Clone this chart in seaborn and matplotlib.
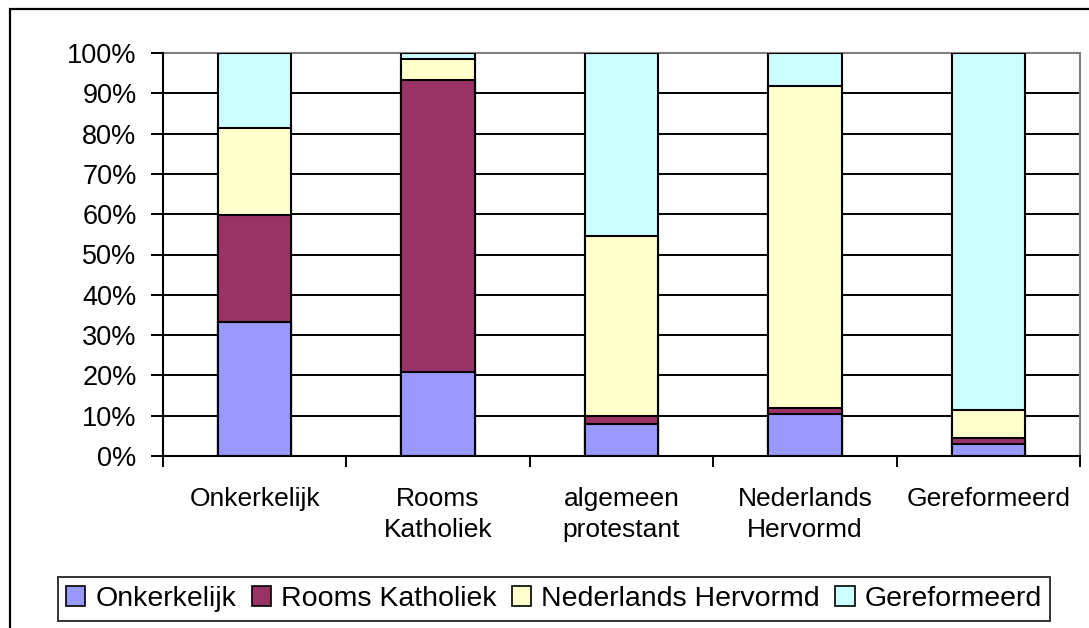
import numpy as np
import seaborn as sns
import matplotlib.pyplot as plt
from matplotlib.patches import Rectangle, Patch
from matplotlib.ticker import FixedLocator, FuncFormatter

# categories (bars) and the share of each group, in percent
categories = ['Onkerkelijk', 'Rooms\nKatholiek', 'algemeen\nprotestant',
              'Nederlands\nHervormd', 'Gereformeerd']
series_names = ['Onkerkelijk', 'Rooms Katholiek', 'Nederlands Hervormd', 'Gereformeerd']
onkerkelijk = [33.2, 20.8, 8.0, 10.4, 2.9]
rooms_katholiek = [26.5, 72.6, 2.0, 1.5, 1.6]
nederlands_hervormd = [21.8, 5.0, 44.7, 80.0, 7.0]
gereformeerd = [18.5, 1.6, 45.3, 8.1, 88.5]
colors = ['#9999FF', '#993366', '#FFFFCC', '#CCFFFF']

sns.set_style('white')
plt.rcParams['font.family'] = ['Liberation Sans', 'DejaVu Sans']
plt.rcParams['text.color'] = 'black'
plt.rcParams['xtick.color'] = 'black'
plt.rcParams['ytick.color'] = 'black'

fig = plt.figure(figsize=(10.89, 6.28), dpi=100)
ax = fig.add_axes([163 / 1089, 1 - 456 / 628, (1080 - 163) / 1089, (456 - 53) / 628])

# stacked bars: draw the cumulative totals from the top layer down
layers = np.array([onkerkelijk, rooms_katholiek, nederlands_hervormd, gereformeerd])
cum = np.cumsum(layers, axis=0)
for i in range(3, -1, -1):
    sns.barplot(x=categories, y=cum[i], color=colors[i], saturation=1, width=0.4,
                edgecolor='black', linewidth=1.5, ax=ax, zorder=3)

ax.set_ylim(0, 100)
ax.set_xlim(-0.5, 4.5)
ax.set_yticks(np.arange(0, 101, 10))
ax.yaxis.set_major_formatter(FuncFormatter(lambda v, p: '%d%%' % v))
for v in range(10, 100, 10):
    ax.axhline(v, color='black', linewidth=1.4, zorder=1)

ax.xaxis.set_minor_locator(FixedLocator(np.arange(-0.5, 5, 1)))
ax.tick_params(axis='x', which='major', bottom=True, length=0, pad=22, labelsize=19,
               labelcolor='black')
ax.tick_params(axis='x', which='minor', bottom=True, length=8, width=1.4,
               direction='out', color='black')
ax.tick_params(axis='y', left=True, length=9, width=1.4, direction='out', color='black',
               pad=10, labelsize=19.5, labelcolor='black')
ax.set_xlabel('')
ax.set_ylabel('')
for lab in ax.get_xticklabels():
    lab.set_linespacing(1.4)

for side in ['left', 'bottom']:
    ax.spines[side].set_color('black')
    ax.spines[side].set_linewidth(1.5)
    ax.spines[side].set_zorder(4)
for side in ['top', 'right']:
    ax.spines[side].set_color('#808080')
    ax.spines[side].set_linewidth(1.5)

handles = [Patch(facecolor=c, edgecolor='black', linewidth=1.2) for c in colors]
leg = fig.legend(handles, series_names, loc='center', bbox_to_anchor=(554 / 1089, 1 - 599 / 628),
                 ncol=4, fontsize=20.5, frameon=True, fancybox=False, edgecolor='black',
                 handlelength=0.67, handleheight=0.67, handletextpad=0.35,
                 columnspacing=0.55, borderpad=0.3, borderaxespad=0)
leg.get_frame().set_linewidth(1.4)
for t in leg.get_texts():
    t.set_color('black')

# outer chart frame (cut off at right and bottom)
fig.patches.append(Rectangle((10 / 1089, -0.1), 1.2, 1.1 - 9 / 628, transform=fig.transFigure,
                             fill=False, edgecolor='black', linewidth=1.6))

fig.savefig('out.png', dpi=100)
